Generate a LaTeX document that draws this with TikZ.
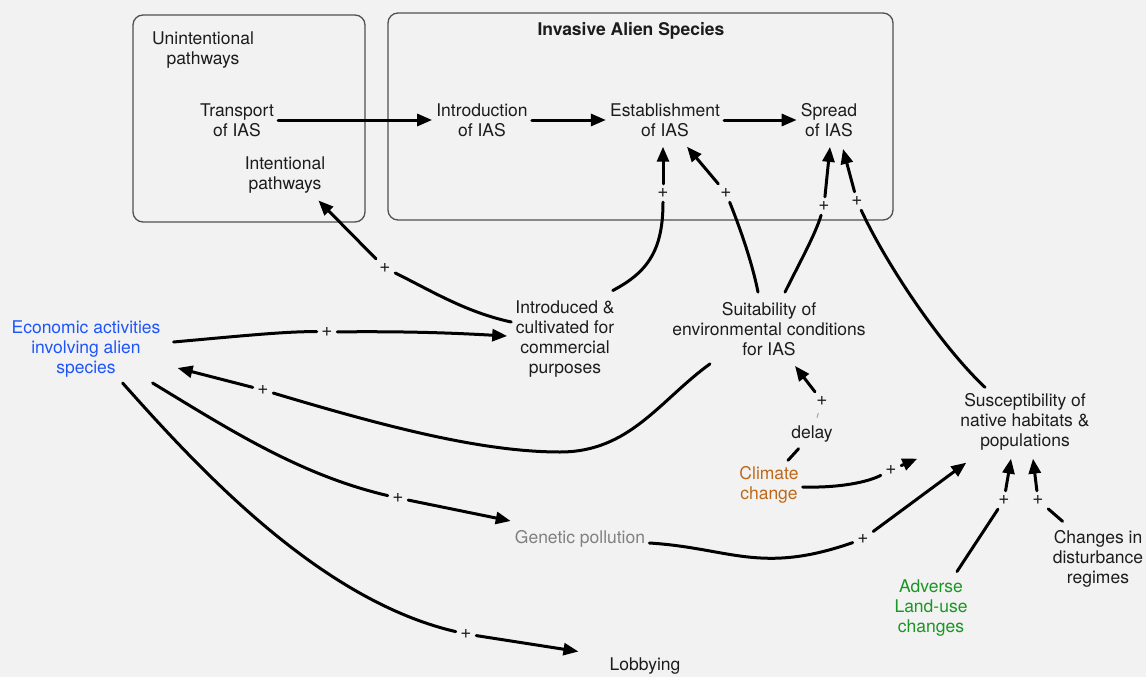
\documentclass[tikz,border=0pt]{standalone}
\usepackage{fontspec}
\setmainfont{TeX Gyre Heros}
\usetikzlibrary{arrows.meta}
\definecolor{bg}{RGB}{242,242,242}
\definecolor{txt}{RGB}{28,28,28}
\definecolor{boxc}{RGB}{80,80,80}
\definecolor{ecoblue}{RGB}{30,85,250}
\definecolor{climorange}{RGB}{190,105,25}
\definecolor{landgreen}{RGB}{25,150,35}
\definecolor{gengray}{RGB}{128,128,128}
\begin{document}
\begin{tikzpicture}[x=1pt,y=-1pt,
  lbl/.style={align=center,inner sep=4pt,font=\fontsize{17.5}{20}\selectfont,text=txt},
  pl/.style={font=\fontsize{19}{19}\selectfont,inner sep=4.5pt,text=txt},
  lnk/.style={line width=3pt,line cap=round,draw=black},
  arr/.style={lnk,-{Triangle[length=15pt,width=12pt]}},
  frame/.style={draw=boxc,line width=1.3pt,rounded corners=10pt}
]
\path[use as bounding box,fill=bg] (0,0) rectangle (1146,677);

% frames
\draw[frame] (133,15) rectangle (365,222);
\draw[frame] (388,13) rectangle (893,220);

% nodes
\node[lbl] (unint) at (203,50) {Unintentional\\pathways};
\node[lbl] (trans) at (237,120) {Transport\\of IAS};
\node[lbl] (intent) at (285,175) {Intentional\\pathways};
\node[lbl,font=\fontsize{17.5}{20}\selectfont\bfseries] (title) at (631,31) {Invasive Alien Species};
\node[lbl] (intro) at (482,120) {Introduction\\of IAS};
\node[lbl] (estab) at (665,120) {Establishment\\of IAS};
\node[lbl] (spread) at (829,120) {Spread\\of IAS};
\node[lbl,text=ecoblue] (econ) at (86,349) {Economic activities\\involving alien\\species};
\node[lbl] (intr) at (565,339) {Introduced \&\\cultivated for\\commercial\\purposes};
\node[lbl] (suit) at (769,329) {Suitability of\\environmental conditions\\for IAS};
\node[lbl] (delay) at (812,434) {delay};
\node[lbl,text=climorange] (clim) at (769,485) {Climate\\change};
\node[lbl] (susc) at (1025,422) {Susceptibility of\\native habitats \&\\populations};
\node[lbl,text=gengray] (gen) at (580,539) {Genetic pollution};
\node[lbl,text=landgreen] (adv) at (931,608) {Adverse\\Land-use\\changes};
\node[lbl] (chg) at (1098,559) {Changes in\\disturbance\\regimes};
\node[lbl] (lob) at (645,666) {Lobbying};

% plus labels
\node[pl] (p1) at (385,268) {+};
\node[pl] (p2) at (663,193) {+};
\node[pl] (p3) at (726,193) {+};
\node[pl] (p4) at (824,206) {+};
\node[pl] (p5) at (857,201) {+};
\node[pl] (p6) at (327,332) {+};
\node[pl] (p7) at (263,390) {+};
\node[pl] (p8) at (398,498) {+};
\node[pl] (p9) at (466,634) {+};
\node[pl] (p10) at (863,539) {+};
\node[pl] (p11) at (891,470) {+};
\node[pl] (p12) at (822,401) {+};
\node[pl] (p13) at (1004,500) {+};
\node[pl] (p14) at (1038,500) {+};

% main chain
\draw[arr] (trans.east) -- (intro.west);
\draw[arr] (intro.east) -- (estab.west);
\draw[arr] (estab.east) -- (spread.west);

% introduced -> intentional pathways
\draw[lnk] ([yshift=17pt]intr.west) .. controls (465,312) and (430,290) .. (p1);
\draw[arr] (p1) -- ([xshift=-11pt,yshift=-3pt]intent.south east);

% introduced -> establishment
\draw[lnk] ([xshift=-6pt,yshift=6pt]intr.north east) .. controls (648,272) and (663,250) .. (p2);
\draw[arr] (p2) -- ([xshift=-2pt,yshift=-6pt]estab.south);

% suitability -> establishment
\draw[lnk] ([xshift=-11pt,yshift=6pt]suit.north) .. controls (752,262) and (740,228) .. (p3);
\draw[arr] (p3) -- ([xshift=22pt,yshift=-6pt]estab.south);

% suitability -> spread
\draw[lnk] ([xshift=16pt,yshift=6pt]suit.north) .. controls (800,262) and (815,235) .. (p4);
\draw[arr] (p4) -- ([xshift=1pt,yshift=-6pt]spread.south);

% susceptibility -> spread
\draw[lnk] ([xshift=-40pt,yshift=2pt]susc.north) .. controls (940,345) and (885,262) .. (p5);
\draw[arr] (p5) -- ([xshift=14pt,yshift=-8pt]spread.south);

% economic -> introduced
\draw[lnk] ([xshift=9pt,yshift=7pt]econ.east) .. controls (240,336) and (290,331) .. (p6);
\draw[arr] (p6) .. controls (420,331) and (470,334) .. ([xshift=-4pt,yshift=3pt]intr.west);

% suitability -> economic
\draw[lnk] ([xshift=-59pt,yshift=-4pt]suit.south) .. controls (660,400) and (630,452) .. (560,452) .. controls (480,452) and (380,425) .. (p7);
\draw[arr] (p7) -- ([xshift=13pt,yshift=-19pt]econ.east);

% economic -> genetic pollution
\draw[lnk] ([xshift=-12pt,yshift=-34pt]econ.east) .. controls (230,430) and (300,475) .. (p8);
\draw[arr] (p8) -- ([yshift=18pt]gen.west);

% economic -> lobbying
\draw[lnk] ([xshift=-42pt,yshift=-34pt]econ.east) .. controls (200,470) and (320,600) .. (p9);
\draw[arr] (p9) -- ([xshift=-27pt,yshift=2pt]lob.north west);

% genetic pollution -> susceptibility
\draw[lnk] ([yshift=-4pt]gen.east) .. controls (730,548) and (760,575) .. (p10);
\draw[arr] (p10) -- ([xshift=10pt,yshift=-8pt]susc.south west);

% climate -> susceptibility
\draw[lnk] ([yshift=-2pt]clim.east) .. controls (840,488) and (868,482) .. (p11);
\draw[arr] (p11) -- ([xshift=-39pt,yshift=-4pt]susc.south west);

% climate -> suitability (delay)
\draw[lnk,shorten >=3pt] ([xshift=19pt,yshift=2pt]clim.north) -- (delay);
\draw[line width=1pt,gengray!70,shorten <=4pt,shorten >=3pt] (delay) -- (p12);
\draw[arr] (p12) -- ([xshift=26pt,yshift=-6pt]suit.south);

% adverse land-use -> susceptibility
\draw[lnk] ([xshift=26pt,yshift=4pt]adv.north) -- (p13);
\draw[arr] (p13) -- ([xshift=-14pt,yshift=-4pt]susc.south);

% disturbance -> susceptibility
\draw[lnk] ([xshift=14pt,yshift=5pt]chg.north west) -- (p14);
\draw[arr] (p14) -- ([xshift=8pt,yshift=-4pt]susc.south);
\end{tikzpicture}
\end{document}
